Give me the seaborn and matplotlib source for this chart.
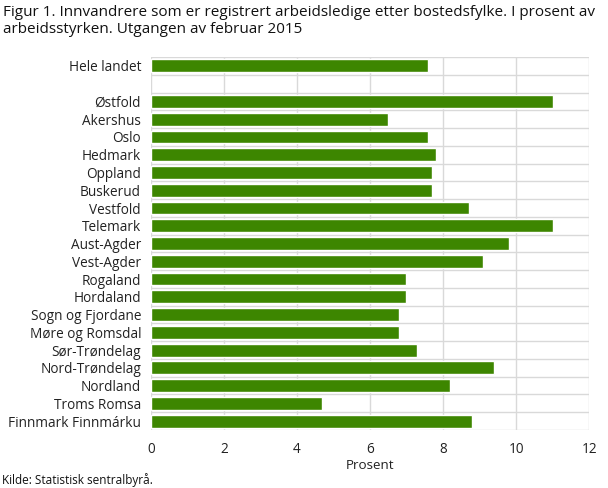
import numpy as np
import pandas as pd
import seaborn as sns
import matplotlib.pyplot as plt
from matplotlib.ticker import FixedLocator

regions = ['Hele landet', ' ', 'Østfold', 'Akershus', 'Oslo', 'Hedmark', 'Oppland',
           'Buskerud', 'Vestfold', 'Telemark', 'Aust-Agder', 'Vest-Agder', 'Rogaland',
           'Hordaland', 'Sogn og Fjordane', 'Møre og Romsdal', 'Sør-Trøndelag',
           'Nord-Trøndelag', 'Nordland', 'Troms Romsa', 'Finnmark Finnmárku']
values = [7.6, np.nan, 11.0, 6.5, 7.6, 7.8, 7.7, 7.7, 8.7, 11.0, 9.8, 9.1, 7.0,
          7.0, 6.8, 6.8, 7.3, 9.4, 8.2, 4.7, 8.8]
xticks = [0, 2, 4, 6, 8, 10, 12]

df = pd.DataFrame({'region': regions, 'prosent': values})

sns.set_style('white')
plt.rcParams['font.family'] = ['Open Sans', 'DejaVu Sans']

fig, ax = plt.subplots(figsize=(6.08, 4.88), dpi=100)
fig.subplots_adjust(left=0.248, right=0.969, top=0.883, bottom=0.119)

sns.barplot(data=df, x='prosent', y='region', order=regions, orient='h',
            color='#3d8600', saturation=1, width=0.73, ax=ax, zorder=3)

ax.set_xlim(0, 12)
ax.set_ylim(len(regions) - 0.5, -0.5)
ax.set_xticks(xticks)
ax.yaxis.set_minor_locator(FixedLocator(np.arange(-0.5, len(regions), 1)))
ax.grid(axis='x', which='major', color='#d9d9d9', linewidth=1, zorder=0)
ax.grid(axis='y', which='minor', color='#d9d9d9', linewidth=1, zorder=0)
for s in ax.spines.values():
    s.set_visible(False)
ax.tick_params(axis='both', which='both', length=0, labelsize=9.8, colors='#222222', pad=7)
ax.tick_params(axis='x', pad=9)
ax.set_ylabel('')
ax.set_xlabel('Prosent', fontsize=9.6, color='#222222', labelpad=1)

fig.text(0.005, 0.99, 'Figur 1. Innvandrere som er registrert arbeidsledige etter bostedsfylke. I prosent av\narbeidsstyrken. Utgangen av februar 2015',
         fontsize=11, va='top', ha='left', color='#111111', linespacing=1.2)
fig.text(0.003, 0.008, 'Kilde: Statistisk sentralbyrå.', fontsize=8.5, color='#111111')

plt.savefig('out.png', dpi=100)
